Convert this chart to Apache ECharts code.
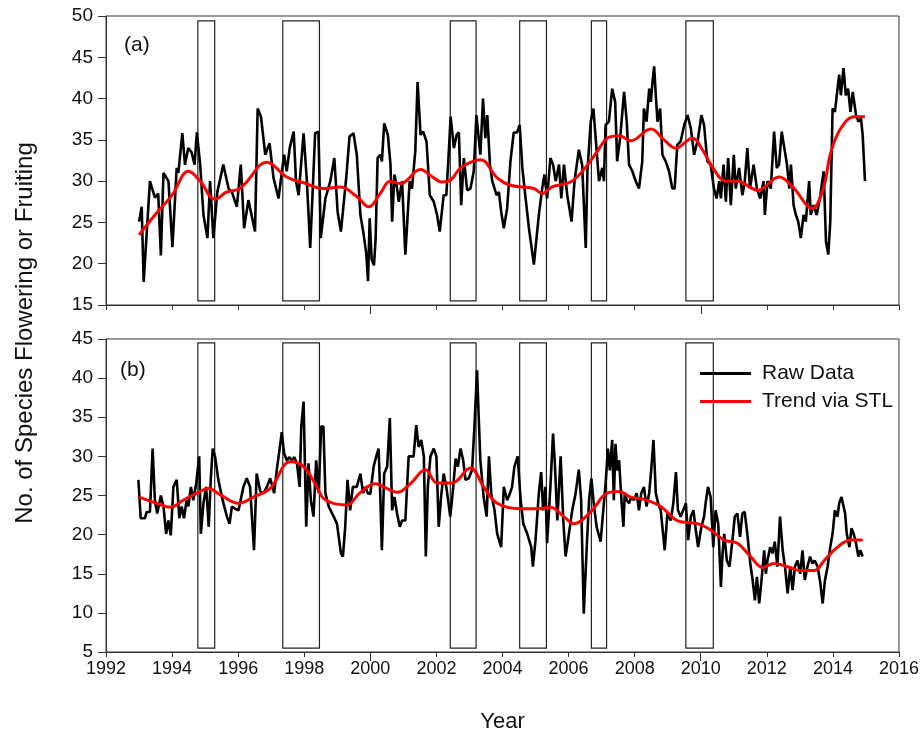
<!DOCTYPE html>
<html>
<head>
<meta charset="utf-8">
<script src="https://cdn.jsdelivr.net/npm/echarts@6/dist/echarts.min.js"></script>
<style>
html,body{margin:0;padding:0;background:#fff;}
#chart{width:922px;height:735px;}
</style>
</head>
<body>
<div id="chart"></div>
<script>
// ---------- DATA ----------
const xTicks = [1992, 1994, 1996, 1998, 2000, 2002, 2004, 2006, 2008, 2010, 2012, 2014, 2016];
const ensoStart = [1994.78, 1997.35, 2002.42, 2004.52, 2006.69, 2009.55];
const ensoEnd   = [1995.29, 1998.46, 2003.20, 2005.33, 2007.15, 2010.38];

// Panel (a): raw data (time in decimal years, value)
const rawATime = [1993.0,1993.08,1993.14,1993.33,1993.48,1993.58,1993.66,1993.74,1993.89,1994.01,1994.14,1994.19,1994.31,1994.39,1994.49,1994.59,1994.68,1994.75,1994.85,1994.95,1995.07,1995.15,1995.25,1995.37,1995.55,1995.71,1995.81,1995.96,1996.08,1996.18,1996.31,1996.51,1996.59,1996.69,1996.82,1996.95,1997.07,1997.22,1997.39,1997.47,1997.56,1997.68,1997.75,1997.83,1997.98,1998.08,1998.18,1998.33,1998.43,1998.50,1998.64,1998.79,1998.91,1999.01,1999.11,1999.27,1999.37,1999.49,1999.59,1999.70,1999.80,1999.88,1999.93,1999.98,2000.04,2000.11,2000.16,2000.22,2000.30,2000.35,2000.42,2000.53,2000.61,2000.66,2000.73,2000.81,2000.86,2000.96,2001.06,2001.19,2001.26,2001.36,2001.43,2001.52,2001.60,2001.70,2001.80,2001.92,2002.02,2002.10,2002.22,2002.30,2002.37,2002.43,2002.53,2002.61,2002.68,2002.75,2002.83,2002.93,2003.03,2003.13,2003.21,2003.28,2003.33,2003.41,2003.48,2003.54,2003.62,2003.69,2003.82,2003.89,2003.96,2004.04,2004.14,2004.24,2004.34,2004.44,2004.52,2004.60,2004.70,2004.80,2004.95,2005.10,2005.20,2005.27,2005.35,2005.45,2005.53,2005.61,2005.71,2005.78,2005.86,2005.96,2006.09,2006.18,2006.31,2006.41,2006.52,2006.57,2006.67,2006.75,2006.82,2006.92,2007.02,2007.07,2007.12,2007.22,2007.32,2007.41,2007.47,2007.56,2007.68,2007.76,2007.83,2007.93,2008.03,2008.13,2008.23,2008.28,2008.36,2008.44,2008.49,2008.54,2008.59,2008.64,2008.69,2008.77,2008.84,2008.94,2009.04,2009.14,2009.21,2009.29,2009.39,2009.50,2009.60,2009.70,2009.80,2009.92,2010.02,2010.10,2010.20,2010.30,2010.40,2010.48,2010.56,2010.61,2010.69,2010.76,2010.83,2010.91,2011.00,2011.06,2011.16,2011.26,2011.33,2011.41,2011.49,2011.60,2011.70,2011.80,2011.90,2011.94,2012.02,2012.12,2012.22,2012.30,2012.37,2012.45,2012.53,2012.61,2012.68,2012.73,2012.81,2012.88,2012.95,2013.03,2013.11,2013.18,2013.28,2013.33,2013.41,2013.51,2013.62,2013.72,2013.79,2013.86,2013.92,2013.99,2014.06,2014.14,2014.19,2014.24,2014.32,2014.39,2014.46,2014.53,2014.60,2014.70,2014.77,2014.85,2014.90,2014.97];
const rawAValue = [25.1,26.9,17.8,30,28,28.5,21,31,30,22,31.6,31,35.8,32,34,33.5,32,35.9,32,25.9,23.1,30,23.1,28.7,32,29.1,28.7,26.9,32,24.3,27.7,23.9,38.8,37.8,33.2,34.6,30.4,27.9,33.2,31.2,34,36,30,28.3,35.8,30,21.9,35.8,36,23.1,27.9,30,32.8,26.3,23.9,30.4,35.4,35.8,33.2,25.9,23.5,21.1,17.9,25.5,20.5,19.8,23,32.8,33.2,32.4,37,35.6,32,25.1,30.8,29.1,27.5,30,21.1,30,29.1,33.6,42,35.6,36,34.8,28.3,27.5,25.9,23.9,28.3,28.3,33.2,37.8,34,35.6,35.9,27.1,32.8,28.9,29.1,31.2,38,35.2,33.2,40,35.2,38,32,30,28.3,28.7,26.3,24.3,26.7,32.4,35.9,35.9,36.8,31.6,27.9,24.3,19.9,25.9,29.1,30.8,27.9,32.8,32,30,32,27.9,32,28.3,25.1,30,33.8,32,21.9,31.2,37.2,38.8,35.2,30,31.6,30,36.8,37.2,41.2,39.6,32.4,35.2,40.8,37.2,32,31.2,30,29.1,32.4,38.8,37.2,41.2,39.6,42,43.9,40.4,37.2,38.8,33.2,32.4,31.2,29.1,29.1,34.4,34.8,36.8,38,36.4,33.2,35.2,38,36.8,32.4,32,29.1,27.9,30,27.9,32,27.5,32.8,27.1,33.2,29.1,31.6,28.3,29.9,34,29.1,32,29.1,27.9,30,25.9,30,29.1,36,31.6,32,36,34,32,29.1,32,27.1,25.9,25.1,23.1,25.9,25.1,30,25.9,27.1,25.9,28.3,31.2,22.7,21.1,25.1,38.8,38.4,41.2,42.9,40.4,43.7,40.4,41.2,38.4,40.8,38,37.2,37.6,35.6,30];

// Panel (a): STL trend
const trendATime = [1993.0,1993.5,1994.0,1994.5,1994.85,1995.3,1995.66,1996.0,1996.21,1996.87,1997.47,1997.98,1998.59,1999.09,1999.6,1999.95,2000.3,2000.6,2000.91,2001.52,2001.85,2002.17,2002.45,2002.73,2003.33,2003.84,2004.24,2004.95,2005.2,2005.5,2006.06,2006.46,2006.87,2007.17,2007.53,2007.88,2008.49,2008.89,2009.24,2009.75,2010.05,2010.4,2010.76,2011.11,2011.72,2012.37,2012.78,2013.38,2013.7,2013.94,2014.24,2014.65,2014.97];
const trendAValue = [23.5,26,28.3,31.2,30,27.8,28.7,29,29.7,32.3,30.5,29.8,29.1,29.3,28.1,26.9,28.5,30,29.7,31.4,30.6,29.9,30.2,31.6,32.6,30.4,29.5,29.1,28.5,29.3,29.9,31.4,33.6,35.2,35.5,34.9,36.3,35,34,35.2,33.8,31.4,30,30,28.9,30.5,29.3,26.7,29,33.5,36.4,37.8,37.8];

// Panel (b): raw data
const rawBTime = [1992.98,1993.05,1993.18,1993.23,1993.33,1993.41,1993.48,1993.55,1993.66,1993.74,1993.82,1993.89,1993.96,1994.04,1994.14,1994.22,1994.29,1994.36,1994.44,1994.49,1994.57,1994.64,1994.73,1994.82,1994.87,1994.95,1995.03,1995.11,1995.17,1995.23,1995.30,1995.40,1995.53,1995.66,1995.74,1995.81,1995.91,1996.01,1996.16,1996.26,1996.36,1996.48,1996.56,1996.67,1996.77,1996.87,1996.97,1997.09,1997.17,1997.25,1997.32,1997.39,1997.47,1997.55,1997.62,1997.70,1997.78,1997.86,1997.91,1997.98,1998.06,1998.13,1998.20,1998.28,1998.36,1998.44,1998.51,1998.58,1998.64,1998.74,1998.89,1998.99,1999.11,1999.17,1999.24,1999.31,1999.39,1999.47,1999.59,1999.70,1999.78,1999.85,1999.92,2000.0,2000.10,2000.18,2000.25,2000.30,2000.35,2000.42,2000.51,2000.59,2000.66,2000.73,2000.81,2000.89,2000.96,2001.06,2001.16,2001.23,2001.31,2001.39,2001.46,2001.54,2001.62,2001.68,2001.74,2001.82,2001.92,2002.0,2002.07,2002.14,2002.22,2002.30,2002.42,2002.51,2002.58,2002.65,2002.73,2002.81,2002.88,2002.98,2003.08,2003.15,2003.23,2003.28,2003.33,2003.43,2003.52,2003.59,2003.66,2003.76,2003.84,2003.96,2004.04,2004.14,2004.22,2004.29,2004.36,2004.46,2004.55,2004.63,2004.75,2004.87,2004.92,2005.0,2005.10,2005.17,2005.23,2005.30,2005.35,2005.45,2005.53,2005.58,2005.66,2005.76,2005.84,2005.91,2006.01,2006.11,2006.21,2006.31,2006.38,2006.46,2006.55,2006.62,2006.69,2006.77,2006.85,2006.97,2007.05,2007.12,2007.19,2007.25,2007.32,2007.37,2007.42,2007.47,2007.53,2007.60,2007.66,2007.70,2007.76,2007.83,2007.90,2007.98,2008.06,2008.13,2008.20,2008.28,2008.36,2008.44,2008.50,2008.57,2008.64,2008.71,2008.79,2008.91,2008.99,2009.09,2009.17,2009.25,2009.31,2009.39,2009.47,2009.55,2009.62,2009.70,2009.78,2009.85,2009.92,2010.02,2010.10,2010.16,2010.22,2010.30,2010.38,2010.45,2010.53,2010.61,2010.66,2010.71,2010.79,2010.87,2010.96,2011.03,2011.11,2011.19,2011.26,2011.33,2011.41,2011.50,2011.57,2011.64,2011.70,2011.77,2011.84,2011.92,2011.97,2012.02,2012.10,2012.17,2012.24,2012.32,2012.40,2012.48,2012.55,2012.63,2012.71,2012.78,2012.85,2012.93,2013.01,2013.08,2013.15,2013.23,2013.31,2013.38,2013.45,2013.54,2013.62,2013.69,2013.76,2013.84,2013.92,2013.99,2014.06,2014.14,2014.19,2014.26,2014.32,2014.37,2014.42,2014.50,2014.56,2014.63,2014.70,2014.77,2014.83,2014.90];
const rawBValue = [27.0,22.1,22.1,22.9,22.9,31,24.4,22.7,25,23.6,20.1,21.8,19.9,26.1,27,22.1,23.6,22.1,24.4,23.6,26.1,24.4,26.5,30,20.1,24,26.1,21,27,31,30,27,24.4,22.3,21.4,23.6,23.3,23.1,26.1,27.2,26.1,18,27.8,25.5,25.3,26.1,27.2,25.3,28.3,30.8,33.1,30.4,29.5,29.9,29.5,29.9,29.1,26.1,33.8,37,21,29.1,24.4,22.3,29.5,25.3,33.8,33.8,25.3,23.6,22.3,21.4,17.6,17.2,21,27,23.1,26.1,26.1,27.8,25.3,26.1,25.3,25.2,28.7,30,31,25.2,18,27.8,28.7,34.9,23.1,24.8,22.7,21,21.8,21.8,30,30,30,34,31.2,32.1,30,17.2,26.1,30,31,30,21,24.8,27.8,26.1,22.3,26.1,29.7,28.7,31,29.5,27,27.2,28.3,33.8,41,35.1,29.5,24.8,22.3,30,25.2,23.1,20.1,18.4,26.1,24.4,25.2,26.1,28.7,30,24.4,21.4,20.1,18.4,15.9,19.3,25.3,28,23.1,26.1,18.9,26.1,32.9,29.5,21.8,30,21.8,17.2,20.1,23.1,25.2,28.3,24.4,9.9,18.4,24.4,27.2,23.6,21,19.1,23.1,26.5,31,28.2,32.1,24.4,31.6,28.2,29.5,24.4,21,25.3,24.4,24,24.8,24.4,25.3,23.1,25.3,26.1,23.6,25.3,28.2,32.1,25.3,24,23.1,18,22.7,21.8,24,28,23.1,22.3,23.1,24,19.3,22.3,23.1,20.6,18.4,21,22.3,24.4,26.1,24.8,18.4,23.1,21.4,13.3,17.6,20.1,16.7,15.9,19.3,22.3,22.7,19.7,22.7,22.9,20.1,16.3,14.2,11.6,14.6,11.2,14.2,18,15,16.7,18.4,17.6,19.1,15.9,22.3,18,15.9,12.5,15.9,12.9,15.9,16.7,15,18,14.2,15.9,17.2,16.3,16.7,15.9,13.8,11.2,14.2,15.9,18.4,20.1,23.1,22.3,24,24.8,25,22.7,20.1,18.4,20.8,20.1,18.9,17.2,18,17.2];

// Panel (b): STL trend
const trendBTime = [1993.0,1993.54,1993.94,1994.34,1994.75,1995.1,1995.45,1996.01,1996.46,1996.97,1997.58,1997.98,1998.38,1998.59,1998.99,1999.29,1999.70,2000.15,2000.45,2000.81,2001.21,2001.67,2002.02,2002.47,2003.03,2003.43,2003.84,2004.55,2005.05,2005.45,2005.86,2006.16,2006.67,2007.17,2007.53,2007.88,2008.28,2008.79,2009.29,2009.9,2010.3,2010.71,2011.11,2011.51,2011.87,2012.22,2012.63,2013.03,2013.43,2013.74,2014.14,2014.55,2014.9];
const trendBValue = [24.8,24,23.5,24.4,25.3,25.9,25.1,24,24.8,25.9,29.3,28.7,26.1,24.6,23.9,23.8,25.4,26.5,26,25.4,26.5,28.3,26.6,26.6,28.5,26.1,24,23.3,23.3,23.5,22.3,21.4,22.9,25.3,25.5,24.8,24.5,23.6,21.8,21.4,20.6,19.3,18.9,17.2,15.8,16.3,15.9,15.4,15.4,16.7,18.4,19.3,19.3];

// ---------- CHART ----------
const FONT = '"Liberation Sans", Arial, sans-serif';
const AX = '#333';
function pairs(t, v) { return t.map((x, i) => [x, v[i]]); }
function ensoAreas(y0, y1) {
  return ensoStart.map((s, i) => [{ xAxis: s, yAxis: y0 }, { xAxis: ensoEnd[i], yAxis: y1 }]);
}
function xAxisDef(grid, showLabels) {
  return {
    type: 'value', gridIndex: grid, position: 'bottom', min: xTicks[0], max: xTicks[xTicks.length - 1], interval: 2,
    axisLine: { show: true, onZero: false, lineStyle: { color: AX, width: 1 } },
    axisTick: { show: true, inside: false, length: 5, lineStyle: { color: AX } },
    axisLabel: { show: showLabels, fontFamily: FONT, fontSize: 18, color: '#111', margin: 8,
      formatter: function (v) { return String(v); } },
    splitLine: { show: false },
    name: showLabels ? 'Year' : '', nameLocation: 'middle', nameGap: 59,
    nameTextStyle: { fontFamily: FONT, fontSize: 22, color: '#111' }
  };
}
function longTickAxis(grid) {
  return {
    type: 'value', gridIndex: grid, position: 'bottom', min: xTicks[0], max: xTicks[xTicks.length - 1], interval: 2,
    axisLine: { show: false },
    axisTick: { show: true, length: 9, customValues: [2000, 2010], lineStyle: { color: AX } },
    axisLabel: { show: false }, splitLine: { show: false }
  };
}
function yAxisDef(grid, min, max) {
  return {
    type: 'value', gridIndex: grid, min: min, max: max, interval: 5,
    axisLine: { show: true, onZero: false, lineStyle: { color: AX, width: 1 } },
    axisTick: { show: true, inside: false, length: 8, lineStyle: { color: AX } },
    axisLabel: { fontFamily: FONT, fontSize: 19, color: '#111', margin: 13 },
    splitLine: { show: false }
  };
}
const rawStyle = { color: '#000', width: 2.6 };
const trendStyle = { color: '#ff0000', width: 3 };
const areaStyle = { color: 'rgba(0,0,0,0)', borderColor: '#222', borderWidth: 1.2 };

const option = {
  animation: false,
  backgroundColor: '#fff',
  grid: [
    { left: 106, right: 23, top: 16, height: 289, show: true, borderColor: AX, borderWidth: 1, backgroundColor: 'transparent' },
    { left: 106, right: 23, top: 339, height: 313, show: true, borderColor: AX, borderWidth: 1, backgroundColor: 'transparent' }
  ],
  xAxis: [xAxisDef(0, false), xAxisDef(1, true), longTickAxis(0), longTickAxis(1)],
  yAxis: [yAxisDef(0, 15, 50), yAxisDef(1, 5, 45)],
  legend: {
    orient: 'vertical', left: 695, top: 358, icon: 'rect', itemWidth: 51, itemHeight: 3, itemGap: 7,
    data: ['Raw Data', 'Trend via STL'],
    textStyle: { fontFamily: FONT, fontSize: 21, color: '#111', padding: [0, 0, 0, 6] }
  },
  graphic: [
    { type: 'text', left: 124, top: 35, style: { text: '(a)', font: '21px ' + FONT, fill: '#111' } },
    { type: 'text', left: 120, top: 360, style: { text: '(b)', font: '21px ' + FONT, fill: '#111' } },
    { type: 'text', x: 25, y: 333, rotation: Math.PI / 2,
      style: { text: 'No. of Species Flowering or Fruiting', font: '24px ' + FONT, fill: '#111', align: 'center', verticalAlign: 'middle' } }
  ],
  series: [
    { name: 'Raw Data', type: 'line', xAxisIndex: 0, yAxisIndex: 0, data: pairs(rawATime, rawAValue),
      symbol: 'none', lineStyle: rawStyle, itemStyle: { color: '#000' }, z: 3,
      markArea: { silent: true, itemStyle: areaStyle, data: ensoAreas(15.5, 49.4) } },
    { name: 'Trend via STL', type: 'line', xAxisIndex: 0, yAxisIndex: 0, data: pairs(trendATime, trendAValue),
      symbol: 'none', smooth: 0.4, lineStyle: trendStyle, itemStyle: { color: '#ff0000' }, z: 4 },
    { name: 'Raw Data', type: 'line', xAxisIndex: 1, yAxisIndex: 1, data: pairs(rawBTime, rawBValue),
      symbol: 'none', lineStyle: rawStyle, itemStyle: { color: '#000' }, z: 3,
      markArea: { silent: true, itemStyle: areaStyle, data: ensoAreas(5.5, 44.5) } },
    { name: 'Trend via STL', type: 'line', xAxisIndex: 1, yAxisIndex: 1, data: pairs(trendBTime, trendBValue),
      symbol: 'none', smooth: 0.4, lineStyle: trendStyle, itemStyle: { color: '#ff0000' }, z: 4 }
  ]
};
const chart = echarts.init(document.getElementById('chart'), null, { renderer: 'canvas' });
chart.setOption(option);
</script>
</body>
</html>
